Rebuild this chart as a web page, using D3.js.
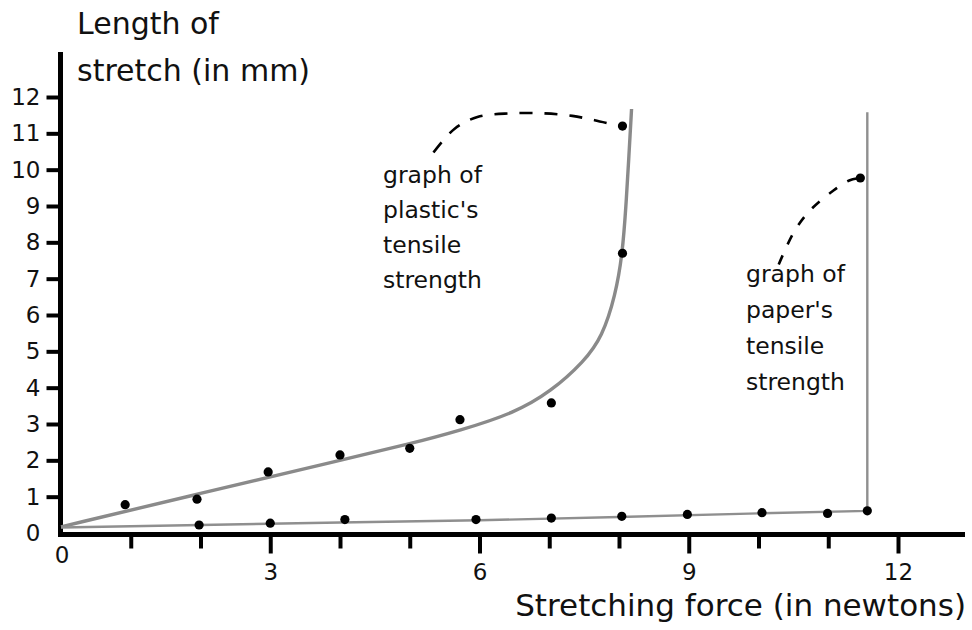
<!DOCTYPE html>
<html>
<head>
<meta charset="utf-8">
<script src="https://cdn.jsdelivr.net/npm/d3@7"></script>
<style>
  html, body { margin: 0; padding: 0; background: #fff; }
  svg { display: block; }
</style>
</head>
<body>
<svg id="chart" width="972" height="630"></svg>
<script>
// ---------- data ----------
const yTickValues = [0,1,2,3,4,5,6,7,8,9,10,11,12];
const yTickLabels = ["0","1","2","3","4","5","6","7","8","9","10","11","12"];
const xMajorTicks = [3,6,9,12];
const xMajorLabels = ["3","6","9","12"];
const xMinorTicks = [1,2,4,5,7,8,10,11];
const xOriginLabel = "0";

// measured points: plastic
const plasticForce   = [0.92, 1.95, 2.97, 4.0, 5.0, 5.72, 7.03, 8.05, 8.05];
const plasticStretch = [0.78, 0.93, 1.68, 2.15, 2.33, 3.12, 3.58, 7.7, 11.2];
// measured points: paper
const paperForce   = [1.98, 3.0, 4.07, 5.95, 7.03, 8.04, 8.98, 10.05, 10.99, 11.56, 11.46];
const paperStretch = [0.22, 0.27, 0.37, 0.37, 0.41, 0.46, 0.51, 0.56, 0.54, 0.61, 9.77];

// hand-drawn trend curves
const plasticFitForce   = [0, 2, 4, 5, 5.72, 6.5, 7.03, 7.5, 7.76, 7.95, 8.05, 8.10, 8.14, 8.18];
const plasticFitStretch = [0.17, 1.09, 2.0, 2.45, 2.82, 3.3, 3.9, 4.72, 5.4, 6.55, 7.69, 9.0, 10.3, 11.67];
const paperFitForce   = [0, 2, 4, 6, 8, 10, 11.56, 11.56];
const paperFitStretch = [0.15, 0.22, 0.29, 0.35, 0.44, 0.54, 0.61, 11.58];

// dashed connector arcs
const plasticArcForce   = [5.34, 5.64, 5.97, 6.44, 6.92, 7.33, 7.65, 8.05];
const plasticArcStretch = [10.47, 11.12, 11.45, 11.55, 11.55, 11.48, 11.36, 11.18];
const paperArcForce   = [10.29, 10.51, 10.74, 11.07, 11.31, 11.46];
const paperArcStretch = [7.39, 8.29, 8.88, 9.42, 9.71, 9.77];

const plasticNote = ["graph of", "plastic's", "tensile", "strength"];
const paperNote   = ["graph of", "paper's", "tensile", "strength"];
const yTitle = ["Length of", "stretch (in mm)"];
const xTitle = "Stretching force (in newtons)";

// ---------- layout ----------
const FONT = "'Comic Sans MS', 'DejaVu Sans', sans-serif";
const svg = d3.select("#chart");
const x = d3.scaleLinear().domain([0, 12]).range([61, 898]);
const y = d3.scaleLinear().domain([0, 12]).range([533, 97]);
const axisY = 534.5;   // drawn x-axis line
const axisX = 60.5;    // drawn y-axis line

// axis lines
svg.append("line").attr("x1", axisX).attr("x2", axisX).attr("y1", 52).attr("y2", 537)
  .attr("stroke", "#000").attr("stroke-width", 5);
svg.append("line").attr("x1", 58).attr("x2", 965).attr("y1", axisY).attr("y2", axisY)
  .attr("stroke", "#000").attr("stroke-width", 5);

// y axis ticks + labels
const gy = svg.append("g").attr("transform", `translate(${axisX},0)`)
  .call(d3.axisLeft(y).tickValues(yTickValues).tickSize(14).tickPadding(6)
        .tickFormat((d, i) => yTickLabels[i]));
gy.select(".domain").remove();
gy.selectAll(".tick line").attr("stroke", "#000").attr("stroke-width", 4)
  .attr("display", d => d === 0 ? "none" : null);
gy.selectAll(".tick text").attr("font-family", FONT).attr("font-size", 23).attr("fill", "#111");

// x axis minor ticks
const gxm = svg.append("g").attr("transform", `translate(0,${axisY})`)
  .call(d3.axisBottom(x).tickValues(xMinorTicks).tickSize(14).tickFormat(""));
gxm.select(".domain").remove();
gxm.selectAll(".tick line").attr("stroke", "#000").attr("stroke-width", 4);

// x axis major ticks + labels
const gx = svg.append("g").attr("transform", `translate(0,${axisY})`)
  .call(d3.axisBottom(x).tickValues(xMajorTicks).tickSize(19).tickPadding(10)
        .tickFormat((d, i) => xMajorLabels[i]));
gx.select(".domain").remove();
gx.selectAll(".tick line").attr("stroke", "#000").attr("stroke-width", 4);
gx.selectAll(".tick text").attr("font-family", FONT).attr("font-size", 23).attr("fill", "#111");

svg.append("text").attr("x", x(0) + 1).attr("y", 555).attr("dy", "0.35em")
  .attr("text-anchor", "middle").attr("font-family", FONT).attr("font-size", 23)
  .attr("fill", "#111").text(xOriginLabel);

// axis titles
svg.append("g").selectAll("text").data(yTitle).join("text")
  .attr("x", 77).attr("y", (d, i) => 34 + i * 47)
  .attr("font-family", FONT).attr("font-size", 30).attr("fill", "#111").text(d => d);
svg.append("text").attr("x", 966).attr("y", 616).attr("text-anchor", "end")
  .attr("font-family", FONT).attr("font-size", 31).attr("fill", "#111").text(xTitle);

// trend curves
svg.append("path")
  .attr("d", d3.line().x(d => x(d[0])).y(d => y(d[1])).curve(d3.curveBasis)
                (d3.zip(plasticFitForce, plasticFitStretch)))
  .attr("fill", "none").attr("stroke", "#8a8a8a").attr("stroke-width", 3.4);
svg.append("path")
  .attr("d", d3.line().x(d => x(d[0])).y(d => y(d[1]))(d3.zip(paperFitForce, paperFitStretch)))
  .attr("fill", "none").attr("stroke", "#8f8f8f").attr("stroke-width", 2.4);

// dashed connectors
const arcLine = d3.line().x(d => x(d[0])).y(d => y(d[1])).curve(d3.curveCatmullRom);
svg.append("path")
  .attr("d", arcLine(d3.zip(plasticArcForce, plasticArcStretch)))
  .attr("fill", "none").attr("stroke", "#000").attr("stroke-width", 2.6)
  .attr("stroke-dasharray", "13,12");
svg.append("path")
  .attr("d", arcLine(d3.zip(paperArcForce, paperArcStretch)))
  .attr("fill", "none").attr("stroke", "#000").attr("stroke-width", 2.6)
  .attr("stroke-dasharray", "10,12");

// points
svg.append("g").selectAll("circle").data(d3.zip(plasticForce, plasticStretch)).join("circle")
  .attr("cx", d => x(d[0])).attr("cy", d => y(d[1])).attr("r", 4.6).attr("fill", "#000");
svg.append("g").selectAll("circle").data(d3.zip(paperForce, paperStretch)).join("circle")
  .attr("cx", d => x(d[0])).attr("cy", d => y(d[1])).attr("r", 4.6).attr("fill", "#000");

// annotations
svg.append("g").selectAll("text").data(plasticNote).join("text")
  .attr("x", 383).attr("y", (d, i) => 175 + i * 35).attr("dy", "0.35em")
  .attr("font-family", FONT).attr("font-size", 23.5).attr("fill", "#111").text(d => d);
svg.append("g").selectAll("text").data(paperNote).join("text")
  .attr("x", 746).attr("y", (d, i) => 274 + i * 36).attr("dy", "0.35em")
  .attr("font-family", FONT).attr("font-size", 23.5).attr("fill", "#111").text(d => d);
</script>
</body>
</html>
